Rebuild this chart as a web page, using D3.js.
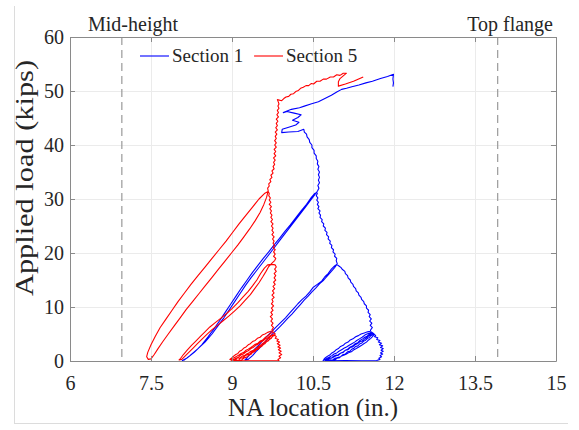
<!DOCTYPE html>
<html>
<head>
<meta charset="utf-8">
<script src="https://cdn.jsdelivr.net/npm/d3@7/dist/d3.min.js"></script>
<style>
  html, body { margin: 0; padding: 0; background: #fff; }
  svg { display: block; }
  text { font-family: "Liberation Serif", "Times New Roman", serif; fill: #262626; }
</style>
</head>
<body>
<svg id="chart" width="579" height="430"></svg>
<script>
// Axis ticks
const xTicks = [6, 7.5, 9, 10.5, 12, 13.5, 15];
const yTicks = [0, 10, 20, 30, 40, 50, 60];

// Reference positions of the section (in.)
const refLines = [
  { x: 6.96, label: "Mid-height", anchor: "start" },
  { x: 13.92, label: "Top flange", anchor: "end" }
];

const seriesNames = ["Section 1", "Section 5"];
const seriesColors = ["#0000ff", "#ff0000"];

// Section 1: neutral axis location (in.) vs applied load (kips), in load order
const section1 = [
  // first cycle to ~5 kips
  [10.68,0.0],[10.72,0.3],[10.75,0.2],[10.80,0.6],[10.84,0.5],[10.88,0.9],[10.93,1.1],[10.96,1.0],[11.02,1.5],[11.06,1.6],
  [11.10,2.0],[11.15,2.1],[11.19,2.5],[11.23,2.6],[11.28,3.0],[11.32,3.2],[11.36,3.5],[11.41,3.7],[11.45,4.0],[11.49,4.3],
  [11.53,4.6],[11.57,4.9],[11.60,5.1],
  [11.63,5.0],[11.66,4.7],[11.64,4.5],[11.70,4.3],[11.68,4.0],[11.74,3.8],[11.71,3.5],[11.77,3.3],[11.73,3.0],[11.79,2.8],
  [11.75,2.5],[11.80,2.3],[11.76,2.0],[11.80,1.8],[11.75,1.5],[11.79,1.3],[11.74,1.0],[11.77,0.8],[11.72,0.5],[11.74,0.3],[11.68,0.1],
  [11.40,0.05],[11.10,0.1],[10.78,0.05],
  [10.82,0.2],[10.86,0.15],[10.90,0.5],[10.95,0.6],[10.98,0.55],[11.03,0.95],[11.08,1.1],[11.12,1.3],[11.17,1.6],[11.21,1.7],
  [11.26,2.1],[11.30,2.3],[11.35,2.6],[11.40,2.9],[11.44,3.2],[11.49,3.5],[11.53,3.9],[11.57,4.2],[11.61,4.6],[11.63,4.9],[11.60,5.2],
  [11.55,5.0],[11.50,4.6],[11.46,4.4],[11.42,4.1],[11.37,3.8],[11.33,3.4],[11.28,3.2],[11.24,2.8],[11.19,2.6],[11.14,2.2],
  [11.10,2.0],[11.05,1.6],[11.00,1.4],[10.96,1.1],[10.91,0.9],[10.86,0.6],[10.82,0.5],[10.77,0.2],[10.74,0.1],
  [10.72,0.2],[10.76,0.5],[10.80,0.7],[10.85,1.0],[10.89,1.3],[10.94,1.5],[10.98,1.8],[11.03,2.1],[11.08,2.4],[11.12,2.6],
  [11.17,2.9],[11.22,3.2],[11.27,3.5],[11.31,3.8],[11.36,4.1],[11.41,4.4],[11.46,4.8],[11.50,5.0],[11.55,5.2],[11.58,5.4],
  [11.62,5.1],[11.60,4.8],[11.57,4.7],[11.54,4.3],[11.51,4.2],[11.47,3.8],[11.44,3.7],[11.40,3.3],[11.37,3.2],[11.33,2.8],
  [11.29,2.7],[11.25,2.3],[11.22,2.2],[11.18,1.8],[11.14,1.7],[11.10,1.3],[11.06,1.2],[11.01,0.8],[10.97,0.7],[10.92,0.3],
  [10.88,0.2],[10.82,0.0],
  [10.74,0.0],[10.70,0.3],[10.73,0.6],[10.77,0.9],[10.81,1.1],[10.85,1.5],[10.89,1.7],[10.93,2.1],[10.97,2.3],[11.01,2.7],
  [11.06,2.9],[11.10,3.3],[11.15,3.5],[11.19,3.9],[11.24,4.1],[11.29,4.5],[11.34,4.7],[11.39,5.0],[11.45,5.2],[11.51,5.4],[11.56,5.5],
  // loading to ~18 kips
  [11.57,5.8],[11.60,6.2],[11.56,6.6],[11.59,7.0],[11.55,7.4],[11.58,7.8],[11.54,8.2],[11.56,8.6],[11.52,9.0],[11.53,9.4],
  [11.49,9.8],[11.49,10.2],[11.45,10.6],[11.44,11.0],[11.40,11.4],[11.39,11.8],[11.35,12.2],[11.34,12.6],[11.30,13.0],
  [11.29,13.4],[11.25,13.8],[11.24,14.2],[11.20,14.6],[11.19,15.0],[11.15,15.4],[11.14,15.8],[11.10,16.2],[11.09,16.6],
  [11.04,17.0],[11.02,17.3],[10.98,17.6],[10.94,17.9],
  // unloading from ~18 kips and reloading
  [10.90,17.6],[10.84,17.0],[10.78,16.2],[10.72,15.6],[10.66,14.8],[10.58,14.2],[10.50,13.6],[10.44,12.8],[10.37,12.0],
  [10.30,11.4],[10.22,10.6],[10.15,9.8],[10.07,8.9],[9.99,8.0],[9.90,7.1],[9.82,6.3],[9.74,5.5],[9.66,4.7],[9.58,3.9],
  [9.50,3.0],[9.42,2.2],[9.35,1.4],[9.28,0.6],[9.24,0.2],
  [9.30,0.3],[9.38,1.0],[9.46,1.9],[9.54,2.7],[9.62,3.6],[9.70,4.5],[9.78,5.3],[9.87,6.2],[9.95,7.0],[10.03,7.9],[10.11,8.7],
  [10.19,9.6],[10.27,10.5],[10.34,11.3],[10.41,12.0],[10.48,12.8],[10.55,13.5],[10.62,14.3],[10.70,15.0],[10.77,15.8],
  [10.84,16.6],[10.90,17.3],[10.95,18.0],
  // loading to ~31 kips
  [10.93,18.6],[10.94,19.0],[10.90,19.4],[10.91,19.8],[10.87,20.2],[10.88,20.6],[10.84,21.0],[10.85,21.4],[10.81,21.8],
  [10.82,22.2],[10.78,22.6],[10.79,23.0],[10.75,23.4],[10.76,23.8],[10.72,24.2],[10.73,24.6],[10.69,25.0],[10.70,25.4],
  [10.66,25.8],[10.67,26.2],[10.63,26.6],[10.64,27.0],[10.61,27.4],[10.63,27.8],[10.59,28.2],[10.61,28.6],[10.58,29.0],
  [10.60,29.4],[10.57,29.8],[10.59,30.2],[10.56,30.6],[10.58,31.0],[10.57,31.2],
  // unloading from ~31 kips and reloading
  [10.53,31.0],[10.47,30.3],[10.38,29.0],[10.28,27.8],[10.18,26.5],[10.08,25.2],[9.98,24.0],[9.88,22.7],[9.78,21.5],
  [9.68,20.2],[9.58,19.0],[9.48,17.7],[9.38,16.4],[9.28,15.0],[9.18,13.6],[9.08,12.1],[8.98,10.6],[8.88,9.1],[8.78,7.6],
  [8.67,6.0],[8.56,4.5],[8.44,3.0],[8.30,1.6],[8.16,0.5],[8.08,0.1],
  [8.12,0.2],[8.22,1.0],[8.36,2.2],[8.50,3.5],[8.63,5.0],[8.74,6.5],[8.85,8.0],[8.95,9.5],[9.05,11.0],[9.15,12.5],
  [9.25,14.0],[9.35,15.4],[9.46,16.8],[9.56,18.1],[9.66,19.4],[9.76,20.7],[9.86,22.0],[9.96,23.3],[10.06,24.6],
  [10.16,25.9],[10.26,27.2],[10.36,28.5],[10.45,29.7],[10.52,30.6],[10.57,31.3],
  // loading to failure
  [10.59,31.6],[10.61,32.0],[10.59,32.5],[10.62,33.0],[10.60,33.5],[10.62,34.0],[10.60,34.5],[10.62,35.0],[10.59,35.5],
  [10.61,36.0],[10.58,36.5],[10.59,37.0],[10.56,37.5],[10.56,38.0],[10.52,38.5],[10.52,39.0],[10.48,39.5],[10.48,40.0],
  [10.44,40.5],[10.43,41.0],[10.39,41.5],[10.38,42.0],[10.34,42.4],[10.33,42.9],
  [10.22,42.5],[10.05,42.4],[9.92,42.3],[9.93,42.9],[10.05,43.3],[10.18,43.7],[10.24,44.2],[10.12,44.6],[10.22,45.1],
  [10.28,45.6],[10.15,45.9],[10.02,46.2],[9.95,46.0],[10.10,46.6],[10.25,46.9],[10.34,47.2],[10.46,47.6],[10.60,48.0],
  [10.72,48.6],[10.84,49.2],[10.94,49.8],[11.03,50.3],[11.12,50.5],[11.22,50.8],[11.35,51.1],[11.48,51.5],[11.60,51.8],
  [11.75,52.3],[11.88,52.7],[11.99,53.1],[11.98,52.2],[11.99,51.5],[11.98,50.8]
];

// Section 5: neutral axis location (in.) vs applied load (kips), in load order
const section5 = [
  // first cycle to ~5 kips
  [8.98,0.0],[9.02,0.3],[9.06,0.2],[9.10,0.6],[9.14,0.5],[9.19,0.9],[9.23,1.0],[9.27,1.3],[9.31,1.5],[9.35,1.8],[9.40,2.0],
  [9.44,2.3],[9.48,2.6],[9.52,2.9],[9.56,3.2],[9.60,3.5],[9.64,3.9],[9.68,4.2],[9.72,4.6],[9.75,4.9],
  [9.79,4.8],[9.82,4.5],[9.80,4.2],[9.86,4.0],[9.83,3.7],[9.88,3.5],[9.84,3.2],[9.89,2.9],[9.85,2.6],[9.90,2.4],[9.86,2.1],
  [9.91,1.8],[9.87,1.5],[9.92,1.2],[9.87,0.9],[9.90,0.6],[9.85,0.3],[9.87,0.1],
  [9.50,0.05],[9.05,0.05],
  [9.08,0.2],[9.12,0.1],[9.15,0.5],[9.20,0.6],[9.24,0.9],[9.28,1.2],[9.33,1.3],[9.37,1.7],[9.41,1.9],[9.46,2.2],[9.50,2.5],
  [9.54,2.8],[9.58,3.0],[9.62,3.4],[9.66,3.7],[9.70,4.0],[9.74,4.4],[9.77,4.8],
  [9.71,4.7],[9.66,4.3],[9.62,4.1],[9.57,3.7],[9.53,3.5],[9.48,3.1],[9.44,2.9],[9.39,2.5],[9.35,2.3],[9.30,1.9],[9.26,1.7],
  [9.21,1.3],[9.16,1.1],[9.12,0.7],[9.07,0.5],[9.03,0.2],[8.99,0.1],
  [9.00,0.4],[9.04,0.6],[9.09,0.9],[9.13,1.1],[9.17,1.4],[9.22,1.6],[9.26,2.0],[9.30,2.2],[9.35,2.5],[9.39,2.8],[9.43,3.1],
  [9.48,3.3],[9.52,3.7],[9.57,3.9],[9.61,4.3],[9.65,4.6],[9.69,4.9],[9.73,5.2],[9.76,5.4],
  [9.80,5.0],[9.78,4.7],[9.75,4.6],[9.73,4.2],[9.70,4.1],[9.67,3.7],[9.64,3.6],[9.61,3.2],[9.58,3.1],[9.55,2.7],[9.52,2.6],
  [9.49,2.2],[9.45,2.1],[9.42,1.7],[9.38,1.6],[9.35,1.2],[9.31,1.1],[9.27,0.7],[9.23,0.6],[9.18,0.2],[9.14,0.1],
  [9.04,0.1],[8.96,0.3],[9.00,0.6],[9.03,0.9],[9.07,1.2],[9.11,1.4],[9.14,1.8],[9.18,2.0],[9.22,2.4],[9.26,2.6],[9.30,3.0],
  [9.34,3.2],[9.38,3.6],[9.43,3.8],[9.47,4.2],[9.52,4.4],[9.56,4.8],[9.61,5.0],[9.66,5.3],[9.72,5.5],[9.76,5.6],
  // loading to ~18 kips
  [9.74,5.8],[9.77,6.2],[9.73,6.6],[9.76,7.0],[9.72,7.4],[9.75,7.8],[9.71,8.2],[9.75,8.6],[9.72,9.0],[9.76,9.4],[9.73,9.8],
  [9.77,10.2],[9.73,10.6],[9.76,11.0],[9.74,11.4],[9.78,11.8],[9.74,12.2],[9.78,12.6],[9.75,13.0],[9.79,13.4],[9.76,13.8],
  [9.80,14.2],[9.77,14.6],[9.81,15.0],[9.78,15.4],[9.81,15.8],[9.78,16.2],[9.82,16.6],[9.79,17.0],[9.82,17.4],[9.80,17.8],
  [9.74,17.9],[9.66,17.8],
  // unloading from ~18 kips and reloading
  [9.60,17.2],[9.53,16.2],[9.46,15.0],[9.38,13.9],[9.30,12.9],[9.21,11.9],[9.11,10.8],[9.00,9.7],[8.90,8.8],[8.79,7.9],
  [8.69,7.1],[8.59,6.3],[8.49,5.3],[8.41,4.5],[8.33,3.7],[8.25,2.9],[8.17,2.0],[8.10,1.2],[8.05,0.5],[8.02,0.2],
  [8.07,0.3],[8.13,0.9],[8.20,1.6],[8.28,2.4],[8.36,3.2],[8.44,4.0],[8.53,4.9],[8.63,5.8],[8.73,6.6],[8.83,7.4],[8.94,8.3],
  [9.04,9.2],[9.15,10.2],[9.25,11.3],[9.34,12.3],[9.42,13.4],[9.50,14.5],[9.57,15.6],[9.63,16.6],[9.68,17.5],[9.75,18.2],
  // loading to ~31 kips
  [9.79,18.6],[9.81,19.0],[9.77,19.4],[9.80,19.8],[9.77,20.2],[9.80,20.6],[9.76,21.0],[9.79,21.4],[9.76,21.8],[9.78,22.2],
  [9.75,22.6],[9.78,23.0],[9.74,23.4],[9.77,23.8],[9.74,24.2],[9.76,24.6],[9.73,25.0],[9.76,25.4],[9.72,25.8],[9.75,26.2],
  [9.72,26.6],[9.74,27.0],[9.71,27.4],[9.73,27.8],[9.70,28.2],[9.73,28.6],[9.69,29.0],[9.72,29.4],[9.69,29.8],[9.71,30.2],
  [9.68,30.6],[9.69,31.0],[9.67,31.4],
  // unloading from ~31 kips and reloading
  [9.60,31.0],[9.50,30.0],[9.38,28.5],[9.26,27.0],[9.13,25.4],[9.01,23.8],[8.89,22.2],[8.76,20.6],[8.63,19.0],[8.50,17.4],
  [8.37,15.8],[8.24,14.2],[8.12,12.6],[8.00,11.0],[7.89,9.4],[7.78,7.8],[7.67,6.2],[7.58,4.6],[7.50,3.0],[7.44,1.6],
  [7.42,0.8],[7.45,0.3],
  [7.50,0.4],[7.56,1.2],[7.63,2.3],[7.72,3.6],[7.82,5.0],[7.93,6.5],[8.04,8.0],[8.15,9.5],[8.27,11.0],[8.39,12.5],[8.51,14.0],
  [8.63,15.5],[8.75,17.0],[8.87,18.5],[8.99,20.0],[9.11,21.5],[9.22,23.0],[9.33,24.5],[9.43,26.0],[9.52,27.5],[9.59,29.0],
  [9.64,30.3],[9.67,31.5],
  // loading to failure
  [9.66,32.0],[9.69,32.4],[9.68,32.8],[9.72,33.2],[9.70,33.6],[9.74,34.0],[9.72,34.4],[9.76,34.8],[9.74,35.2],[9.78,35.6],
  [9.76,36.0],[9.79,36.4],[9.77,36.8],[9.80,37.2],[9.77,37.6],[9.81,38.0],[9.78,38.4],[9.81,38.8],[9.78,39.2],[9.82,39.6],
  [9.79,40.0],[9.82,40.4],[9.79,40.8],[9.82,41.2],[9.80,41.6],[9.83,42.0],[9.80,42.4],[9.84,42.8],[9.81,43.2],[9.84,43.6],
  [9.82,44.0],[9.85,44.4],[9.82,44.8],[9.86,45.2],[9.83,45.6],[9.86,46.0],[9.84,46.4],[9.87,46.8],[9.85,47.2],[9.87,47.6],
  [9.86,47.9],[9.84,48.4],[9.92,48.2],[9.96,48.6],
  [10.00,48.9],[10.05,49.0],[10.09,49.4],[10.14,49.5],[10.18,49.9],[10.23,50.1],[10.27,50.5],[10.32,50.7],[10.37,51.0],
  [10.42,51.0],[10.47,51.4],[10.51,51.3],[10.57,51.8],[10.63,51.8],[10.69,52.2],[10.75,52.2],[10.82,52.6],[10.88,52.6],
  [10.94,53.0],[11.00,52.9],[11.06,53.3],[11.12,53.3],
  [11.00,52.3],[10.97,51.7],[10.97,50.9],[11.10,51.3],[11.25,51.8],[11.43,52.6]
];

const svg = d3.select("#chart");
const plot = { left: 70, right: 556, top: 37, bottom: 361 };

const x = d3.scaleLinear().domain([6, 15]).range([plot.left, plot.right]);
const y = d3.scaleLinear().domain([0, 60]).range([plot.bottom, plot.top]);

// figure frame edges
svg.append("line").attr("x1", 14.5).attr("x2", 14.5).attr("y1", 6).attr("y2", 423)
  .attr("stroke", "#dcdcdc").attr("stroke-width", 1);
svg.append("line").attr("x1", 14).attr("x2", 568).attr("y1", 423.5).attr("y2", 423.5)
  .attr("stroke", "#dcdcdc").attr("stroke-width", 1);

// grid
const grid = svg.append("g").attr("stroke", "#ebebeb").attr("stroke-width", 1);
grid.selectAll(".gx").data(xTicks.slice(1, -1)).join("line")
  .attr("x1", d => Math.round(x(d)) + 0.5).attr("x2", d => Math.round(x(d)) + 0.5)
  .attr("y1", plot.top).attr("y2", plot.bottom);
grid.selectAll(".gy").data(yTicks.slice(1, -1)).join("line")
  .attr("y1", d => Math.round(y(d)) + 0.5).attr("y2", d => Math.round(y(d)) + 0.5)
  .attr("x1", plot.left).attr("x2", plot.right);

// reference dashed lines
svg.selectAll(".ref").data(refLines).join("line")
  .attr("x1", d => x(d.x)).attr("x2", d => x(d.x))
  .attr("y1", plot.top).attr("y2", plot.bottom)
  .attr("stroke", "#9a9a9a").attr("stroke-width", 1.2).attr("stroke-dasharray", "8,5");

// data
const line = d3.line().x(d => x(d[0])).y(d => y(d[1]));
[section1, section5].forEach((s, i) => {
  svg.append("path").datum(s).attr("d", line)
    .attr("fill", "none").attr("stroke", seriesColors[i])
    .attr("stroke-width", 1.1).attr("stroke-linejoin", "round");
});

// axes
const axisColor = "#8a8a8a";
function styleAxis(g) {
  g.select(".domain").attr("stroke", axisColor);
  g.selectAll(".tick line").attr("stroke", axisColor);
  g.selectAll("text").attr("font-size", 20).attr("fill", "#262626")
    .attr("font-family", "Liberation Serif, Times New Roman, serif");
}
const xFmt = d => String(d);
svg.append("g").attr("transform", `translate(0,${plot.bottom})`)
  .call(d3.axisBottom(x).tickValues(xTicks).tickFormat(xFmt).tickSizeInner(-5).tickSizeOuter(0))
  .call(styleAxis)
  .call(g => g.selectAll("text").attr("dy", null).attr("y", 29));
svg.append("g").attr("transform", `translate(0,${plot.top})`)
  .call(d3.axisTop(x).tickValues(xTicks).tickFormat("").tickSizeInner(-5).tickSizeOuter(0))
  .call(styleAxis);
svg.append("g").attr("transform", `translate(${plot.left},0)`)
  .call(d3.axisLeft(y).tickValues(yTicks).tickSizeInner(-5).tickSizeOuter(0))
  .call(styleAxis)
  .call(g => g.selectAll("text").attr("x", -6).attr("dy", "0.34em"));
svg.append("g").attr("transform", `translate(${plot.right},0)`)
  .call(d3.axisRight(y).tickValues(yTicks).tickFormat("").tickSizeInner(-5).tickSizeOuter(0))
  .call(styleAxis);

// axis titles
svg.append("text").attr("x", (plot.left + plot.right) / 2).attr("y", 416)
  .attr("text-anchor", "middle").attr("font-size", 25).text("NA location (in.)");
svg.append("text").attr("transform", "translate(33,178) rotate(-90)")
  .attr("text-anchor", "middle").attr("font-size", 25)
  .attr("textLength", 236).attr("lengthAdjust", "spacingAndGlyphs")
  .text("Applied load (kips)");

// reference line labels
svg.append("text").attr("x", 88).attr("y", 31).attr("font-size", 20).text(refLines[0].label);
svg.append("text").attr("x", 553).attr("y", 31).attr("text-anchor", "end").attr("font-size", 20).text(refLines[1].label);

// legend
const legend = svg.append("g");
const legendX = [140, 254];
seriesNames.forEach((name, i) => {
  legend.append("path")
    .attr("d", `M${legendX[i]},56H${legendX[i] + 29}`)
    .style("stroke", seriesColors[i]).style("stroke-width", "1.1px").style("fill", "none");
  legend.append("text").attr("x", legendX[i] + 32).attr("y", 62).attr("font-size", 19).text(name);
});
</script>
</body>
</html>
